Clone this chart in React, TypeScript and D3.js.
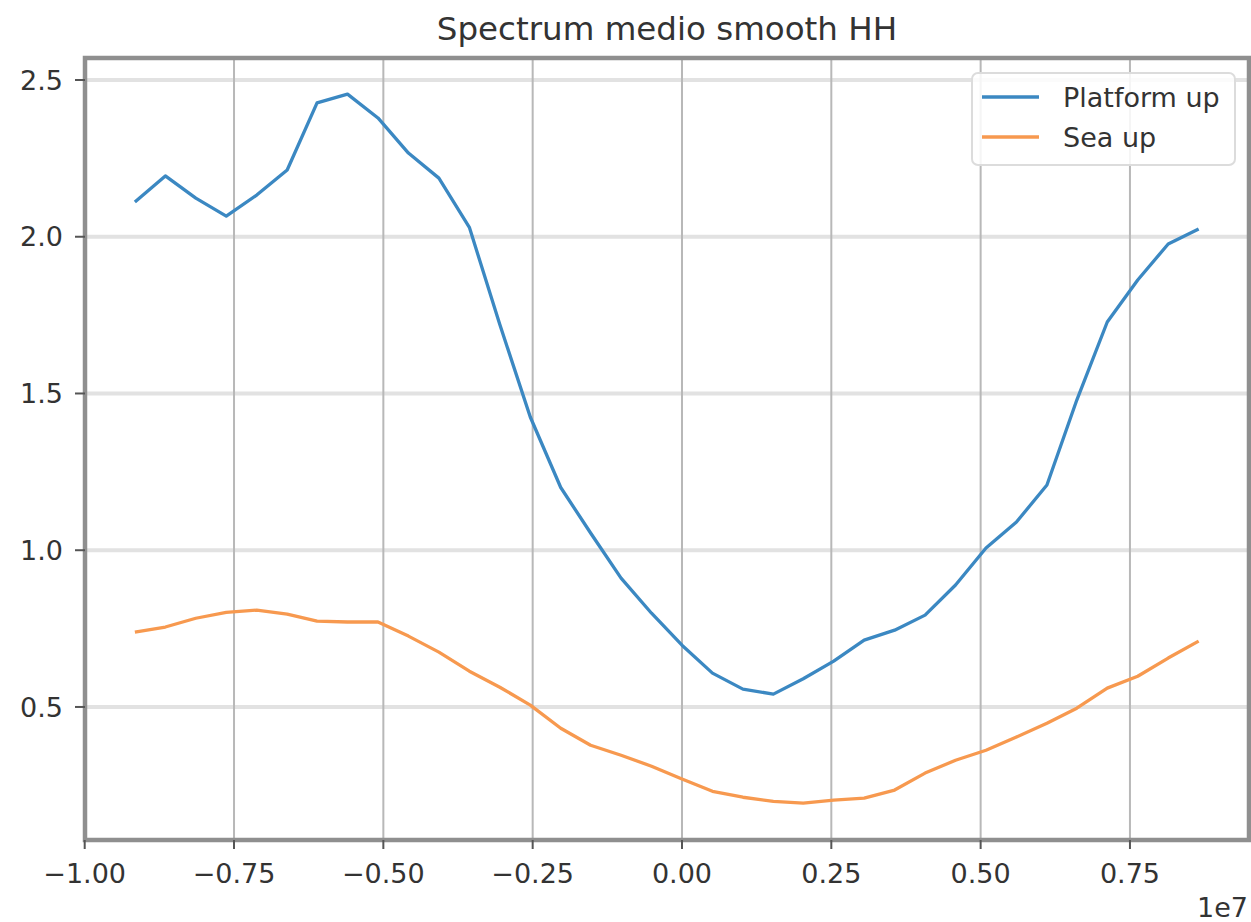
import React from "react";
import * as d3 from "d3";

const xValues = [
  -0.916, -0.865, -0.814, -0.763, -0.712, -0.661, -0.611, -0.560, -0.509, -0.458,
  -0.407, -0.356, -0.305, -0.254, -0.203, -0.153, -0.102, -0.051, 0.0, 0.051,
  0.102, 0.153, 0.203, 0.254, 0.305, 0.356, 0.407, 0.458, 0.509, 0.560,
  0.611, 0.661, 0.712, 0.763, 0.814, 0.865,
];

const platformUp = [
  2.111, 2.194, 2.123, 2.066, 2.133, 2.213, 2.427, 2.455, 2.379, 2.267,
  2.187, 2.03, 1.72, 1.425, 1.2, 1.055, 0.911, 0.799, 0.697, 0.608,
  0.557, 0.541, 0.59, 0.646, 0.713, 0.745, 0.793, 0.889, 1.007, 1.09,
  1.208, 1.479, 1.728, 1.862, 1.977, 2.025,
];

const seaUp = [
  0.739, 0.755, 0.783, 0.802, 0.809, 0.796, 0.774, 0.771, 0.771, 0.726,
  0.675, 0.614, 0.563, 0.506, 0.432, 0.378, 0.346, 0.311, 0.27, 0.231,
  0.212, 0.199, 0.193, 0.203, 0.209, 0.235, 0.289, 0.33, 0.362, 0.404,
  0.448, 0.496, 0.56, 0.598, 0.656, 0.71,
];

const xTicks = [-1.0, -0.75, -0.5, -0.25, 0.0, 0.25, 0.5, 0.75];
const xTickLabels = ["\u22121.00", "\u22120.75", "\u22120.50", "\u22120.25", "0.00", "0.25", "0.50", "0.75"];
const yTicks = [0.5, 1.0, 1.5, 2.0, 2.5];
const yTickLabels = ["0.5", "1.0", "1.5", "2.0", "2.5"];

const seriesNames = ["Platform up", "Sea up"];
const seriesColors = ["#3b88c2", "#f7994f"];
const title = "Spectrum medio smooth HH";
const offsetText = "1e7";

const W = 1251;
const H = 922;
const L = 85, R = 1249, T = 58, B = 840;
const FONT = "DejaVu Sans, sans-serif";

export default function App() {
  const x = d3.scaleLinear().domain([-0.9995, 0.9493]).range([L, R]);
  const y = d3.scaleLinear().domain([0.0756, 2.5702]).range([B, T]);

  const line = d3
    .line<number>()
    .x((_, i) => x(xValues[i]))
    .y((d) => y(d))
    .curve(d3.curveLinear);

  const series = [platformUp, seaUp];

  React.useEffect(() => {
    document.body.style.margin = "0";
  }, []);

  return (
    <svg width={W} height={H} style={{ display: "block", background: "#fff" }} fontFamily={FONT}>
      <rect x={0} y={0} width={W} height={H} fill="#fff" />
      {yTicks.map((t) => (
        <line key={"hg" + t} x1={L} x2={R} y1={y(t)} y2={y(t)} stroke="#e2e2e2" strokeWidth={4} />
      ))}
      {xTicks.map((t) => (
        <line key={"vg" + t} x1={x(t)} x2={x(t)} y1={T} y2={B} stroke="#b8b8b8" strokeWidth={2} />
      ))}
      {series.map((s, i) => (
        <path key={"s" + i} d={line(s) || ""} fill="none" stroke={seriesColors[i]} strokeWidth={3.3} strokeLinejoin="round" strokeLinecap="butt" />
      ))}
      <rect x={L} y={T} width={R - L} height={B - T} fill="none" stroke="#8f8f8f" strokeWidth={4.5} />
      {xTicks.map((t, i) => (
        <g key={"xt" + t}>
          <line x1={x(t)} x2={x(t)} y1={B} y2={B + 9} stroke="#555" strokeWidth={2} />
          <text x={x(t)} y={883} textAnchor="middle" fontSize={27} fill="#333">
            {xTickLabels[i]}
          </text>
        </g>
      ))}
      {yTicks.map((t, i) => (
        <g key={"yt" + t}>
          <line x1={L - 10} x2={L} y1={y(t)} y2={y(t)} stroke="#555" strokeWidth={2} />
          <text x={63} y={y(t)} dy="0.36em" textAnchor="end" fontSize={27} fill="#333">
            {yTickLabels[i]}
          </text>
        </g>
      ))}
      <text x={1248} y={917} textAnchor="end" fontSize={27} fill="#333">
        {offsetText}
      </text>
      <text x={(L + R) / 2} y={40} textAnchor="middle" fontSize={32.5} fill="#333">
        {title}
      </text>
      <rect x={972} y={73} width={263} height={92} rx={6} fill="#fff" fillOpacity={0.85} stroke="#dcdcdc" strokeWidth={2} />
      {seriesNames.map((n, i) => (
        <g key={"lg" + i}>
          <line x1={982} x2={1039} y1={97 + i * 40} y2={97 + i * 40} stroke={seriesColors[i]} strokeWidth={3.3} />
          <text x={1063} y={97 + i * 40} dy="0.36em" fontSize={27} fill="#333">
            {n}
          </text>
        </g>
      ))}
    </svg>
  );
}
